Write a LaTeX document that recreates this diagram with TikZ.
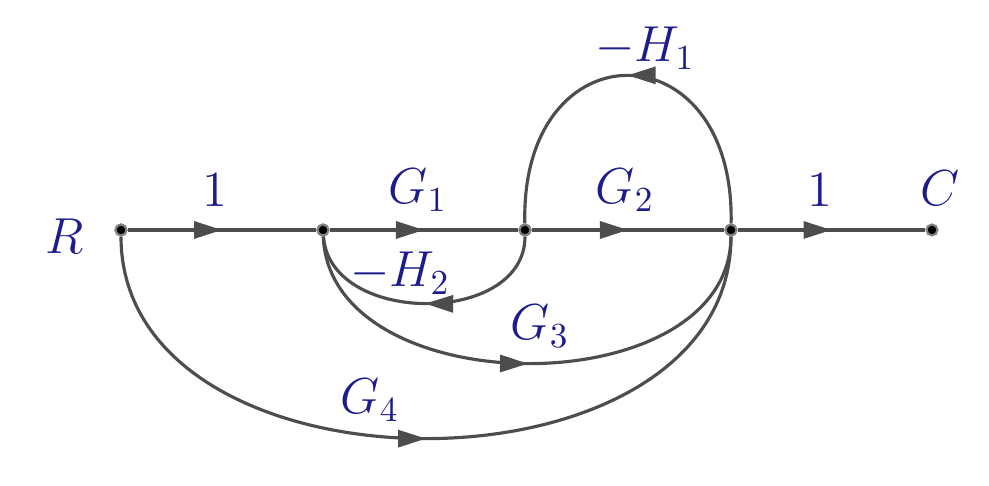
\documentclass[tikz,border=0pt]{standalone}
\usepackage{tikz}
\usetikzlibrary{arrows.meta, decorations.markings}
\definecolor{linegray}{HTML}{4D4D4F}
\definecolor{labelblue}{HTML}{1C1C8C}
\begin{document}
\begin{tikzpicture}[
    dot/.style={circle, draw=linegray!70, fill=black, line width=0.6pt, inner sep=0pt, minimum size=0.11cm},
    lbl/.style={text=labelblue, font=\Large},
    branch/.style={draw=linegray, line width=0.9pt, decoration={markings,
        mark=at position 0.5 with {\arrow{Triangle[length=0.28cm, width=0.17cm]}}}, postaction={decorate}}]
    \useasboundingbox (0,0) rectangle (9.89,4.86);

    % Nodes
    \node[dot] (r) at (1.21,2.56) {};
    \node[dot] (x1) at (3.23,2.56) {};
    \node[dot] (x2) at (5.25,2.56) {};
    \node[dot] (x3) at (7.31,2.56) {};
    \node[dot] (c) at (9.32,2.56) {};

    % Forward branches
    \draw[branch, linegray] (r) -- (x1);
    \draw[branch, linegray] (x1) -- (x2);
    \draw[branch, linegray] (x2) -- (x3);
    \draw[branch, linegray] (x3) -- (c);

    % Feedback and feedforward branches
    \draw[branch, linegray] (x3) .. controls (7.35,4.6) and (5.2,4.6) .. (x2);
    \draw[branch, linegray] (x2) .. controls (5.25,1.6) and (3.3,1.6) .. (x1);
    \draw[branch, linegray] (x1) .. controls (3.3,0.8) and (7.3,0.8) .. (x3);
    \draw[branch, linegray] (r) .. controls (1.21,-0.2) and (7.31,-0.2) .. (x3);
    \node[dot] at (r) {};
    \node[dot] at (x1) {};
    \node[dot] at (x2) {};
    \node[dot] at (x3) {};

    % Labels
    \node[lbl] (lr) at (0.65,2.50) {$R$};
    \node[lbl] (lc) at (9.40,2.98) {$C$};
    \node[lbl] (l1a) at (2.15,2.96) {$1$};
    \node[lbl] (lg1) at (4.18,2.96) {$G_1$};
    \node[lbl] (lg2) at (6.25,2.96) {$G_2$};
    \node[lbl] (l1b) at (8.20,2.96) {$1$};
    \node[lbl] (lh1) at (6.45,4.38) {$-H_1$};
    \node[lbl] (lh2) at (4.00,2.13) {$-H_2$};
    \node[lbl] (lg3) at (5.40,1.60) {$G_3$};
    \node[lbl] (lg4) at (3.70,0.86) {$G_4$};
\end{tikzpicture}
\end{document}
